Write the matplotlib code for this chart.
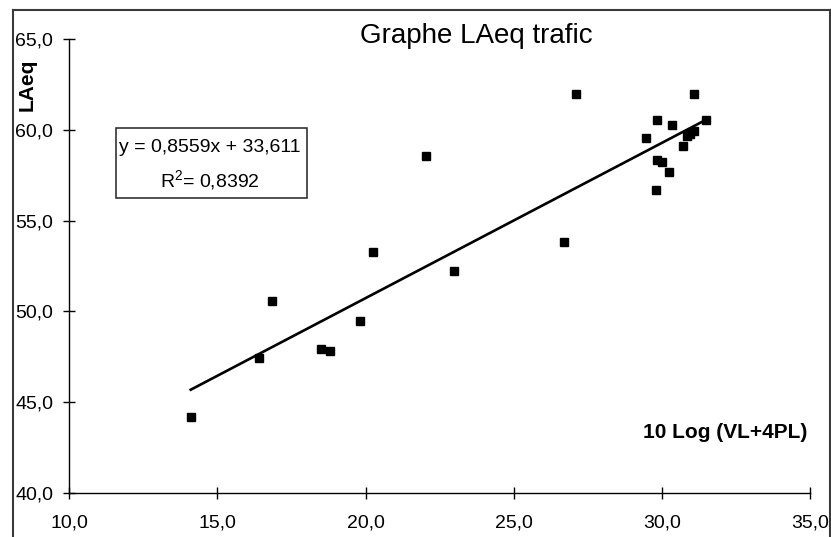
import matplotlib
matplotlib.use("Agg")
import matplotlib.pyplot as plt
from matplotlib.patches import Rectangle
from matplotlib.lines import Line2D
import numpy as np

plt.rcParams['font.family'] = ['Liberation Sans', 'DejaVu Sans']

# ---- data ----
x_vals = [14.1, 16.4, 16.85, 18.5, 18.8, 19.8, 20.25, 22.05, 23.0, 26.7, 27.1,
          29.45, 29.8, 29.82, 29.85, 30.0, 30.25, 30.35, 30.7, 30.86, 30.95,
          31.1, 31.1, 31.5]
y_vals = [44.2, 47.45, 50.55, 47.9, 47.8, 49.45, 53.25, 58.55, 52.25, 53.85, 62.0,
          59.55, 56.7, 58.35, 60.55, 58.25, 57.7, 60.25, 59.1, 59.65, 59.8,
          59.95, 62.0, 60.55]
slope = 0.8559
intercept = 33.611
r2 = 0.8392
x_ticks = [10, 15, 20, 25, 30, 35]
x_tick_labels = ["10,0", "15,0", "20,0", "25,0", "30,0", "35,0"]
y_ticks = [40, 45, 50, 55, 60, 65]
y_tick_labels = ["40,0", "45,0", "50,0", "55,0", "60,0", "65,0"]
title = "Graphe LAeq trafic"
x_label = "10 Log (VL+4PL)"
y_label = "LAeq"

W, H = 831, 537
fig = plt.figure(figsize=(W / 100, H / 100), dpi=100)
fig.patch.set_facecolor('white')

def fx(px):
    return px / W

def fy(py):
    return 1 - py / H

ax = fig.add_axes([fx(69.3), fy(492.7), fx(810) - fx(69.3), fy(39.3) - fy(492.7)])
ax.set_xlim(10, 35)
ax.set_ylim(40, 65)
for s in ['top', 'right']:
    ax.spines[s].set_visible(False)
for s in ['left', 'bottom']:
    ax.spines[s].set_linewidth(1.0)
    ax.spines[s].set_color('black')

ax.set_xticks(x_ticks)
ax.set_xticklabels(x_tick_labels)
ax.set_yticks(y_ticks)
ax.set_yticklabels(y_tick_labels)
ax.tick_params(axis='both', direction='inout', length=9, width=1.0,
               labelsize=14, colors='black')
ax.tick_params(axis='x', pad=11)
ax.tick_params(axis='y', pad=7)

# trend line
xl = np.array([min(x_vals), max(x_vals)])
ax.plot(xl, slope * xl + intercept, color='black', lw=1.9, clip_on=False, zorder=2)
# points
ax.plot(x_vals, y_vals, linestyle='none', marker='s', markersize=6,
        color='black', clip_on=False, zorder=3)

# title and labels
fig.text(fx(476), fy(43), title, ha='center', va='baseline', fontsize=20)
fig.text(fx(807), fy(432), x_label, ha='right', va='center', fontsize=15,
         fontweight='bold')
fig.text(fx(27), fy(85), y_label, ha='center', va='center', rotation=90,
         fontsize=15, fontweight='bold')

# equation box
fig.patches.append(Rectangle((fx(116), fy(198)), fx(307) - fx(116), fy(128) - fy(198),
                             transform=fig.transFigure, fill=False,
                             edgecolor='#222222', lw=1.1))
fig.text(fx(210), fy(148), "y = %sx + %s" % (str(slope).replace('.', ','),
                                              str(intercept).replace('.', ',')),
         ha='center', va='center', fontsize=14)
fig.text(fx(210), fy(180), r"$\mathregular{R^2}$= " + str(r2).replace('.', ','),
         ha='center', va='center', fontsize=14)

# outer chart frame (open at bottom)
frame_kw = dict(transform=fig.transFigure, color='#3a3a3a', lw=1.5)
fig.lines.append(Line2D([fx(13), fx(13)], [0, fy(10)], **frame_kw))
fig.lines.append(Line2D([fx(13), fx(830)], [fy(10), fy(10)], **frame_kw))
fig.lines.append(Line2D([fx(830), fx(830)], [fy(10), 0], **frame_kw))

fig.savefig("out.png", dpi=100)
